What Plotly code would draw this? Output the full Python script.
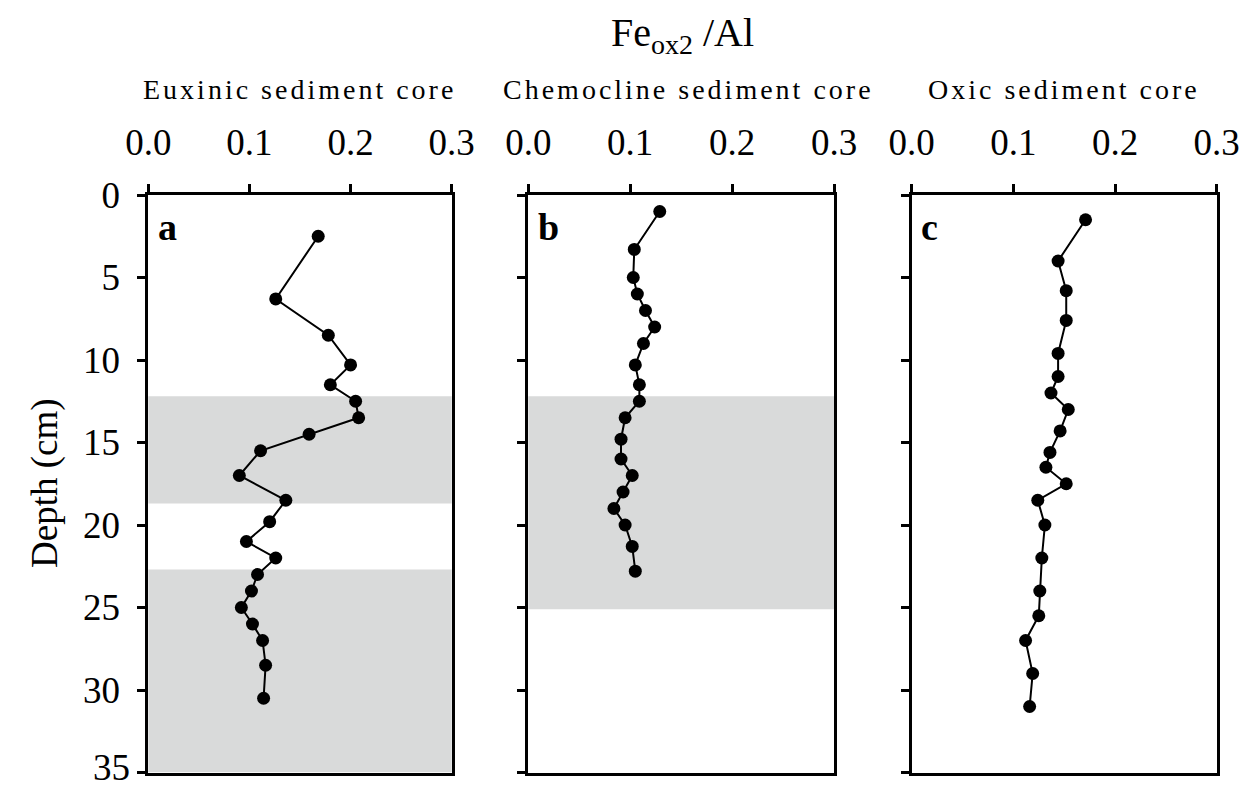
import plotly.graph_objects as go

# ---- data ----
a_depth = [2.5, 6.3, 8.5, 10.3, 11.5, 12.5, 13.5, 14.5, 15.5, 17.0, 18.5, 19.8, 21.0, 22.0, 23.0, 24.0, 25.0, 26.0, 27.0, 28.5, 30.5]
a_val = [0.168, 0.126, 0.178, 0.200, 0.180, 0.205, 0.208, 0.159, 0.111, 0.090, 0.136, 0.120, 0.097, 0.126, 0.108, 0.102, 0.092, 0.103, 0.113, 0.116, 0.114]

b_depth = [1.0, 3.3, 5.0, 6.0, 7.0, 8.0, 9.0, 10.3, 11.5, 12.5, 13.5, 14.8, 16.0, 17.0, 18.0, 19.0, 20.0, 21.3, 22.8]
b_val = [0.129, 0.104, 0.103, 0.107, 0.115, 0.124, 0.113, 0.105, 0.109, 0.109, 0.095, 0.091, 0.091, 0.102, 0.093, 0.084, 0.095, 0.102, 0.105]

c_depth = [1.5, 4.0, 5.8, 7.6, 9.6, 11.0, 12.0, 13.0, 14.3, 15.6, 16.5, 17.5, 18.5, 20.0, 22.0, 24.0, 25.5, 27.0, 29.0, 31.0]
c_val = [0.171, 0.144, 0.152, 0.152, 0.144, 0.144, 0.137, 0.154, 0.146, 0.136, 0.132, 0.152, 0.124, 0.131, 0.128, 0.126, 0.125, 0.112, 0.119, 0.116]

shade_a = [(12.2, 18.7), (22.7, 35.0)]
shade_b = [(12.2, 25.1)]
shade_c = []

panel_titles = ["Euxinic sediment core", "Chemocline sediment core", "Oxic sediment core"]
panel_letters = ["a", "b", "c"]
x_ticks = [0.0, 0.1, 0.2, 0.3]
x_ticktext = ["0.0", "0.1", "0.2", "0.3"]
y_ticks = [0, 5, 10, 15, 20, 25, 30, 35]
y_ticktext = ["0", "5", "10", "15", "20", "25", "30", "35"]
main_title = "Fe<sub>ox2</sub> /Al"
y_title = "Depth (cm)"

# ---- layout ----
W, H = 1250, 789
FONT = "Liberation Serif, Times New Roman, serif"
x_domains = [[148.3 / W, 451.7 / W], [528.3 / W, 834.0 / W], [911.7 / W, 1216.7 / W]]
y_domain = [1 - 772.5 / H, 1 - 195.0 / H]
title_centers = [299 / W, 688 / W, 1064 / W]
TICKLEN, STANDOFF, LW = 8, 10, 3

fig = go.Figure()
series = [(a_val, a_depth), (b_val, b_depth), (c_val, c_depth)]
shades = [shade_a, shade_b, shade_c]

# last y tick label sits on the page edge: draw it as an annotation kept inside the page
y_ticktext_axis = y_ticktext[:-1] + [""]

for i, (xv, yv) in enumerate(series):
    sfx = "" if i == 0 else str(i + 1)
    fig.add_trace(go.Scatter(
        x=xv, y=yv, mode="lines+markers",
        xaxis="x" + sfx, yaxis="y" + sfx,
        line=dict(color="black", width=2),
        marker=dict(color="black", size=13, line=dict(width=0)),
        showlegend=False, cliponaxis=False,
    ))
    for (y0, y1) in shades[i]:
        fig.add_shape(type="rect", xref="x" + sfx + " domain", yref="y" + sfx,
                      x0=0, x1=1, y0=y0, y1=y1, fillcolor="#D9DADA",
                      line=dict(width=0), layer="below")
    axis_common = dict(showgrid=False, zeroline=False, showline=True, automargin=False,
                       linecolor="black", linewidth=LW, mirror=True,
                       ticks="outside", ticklen=TICKLEN, tickwidth=3, tickcolor="black",
                       tickfont=dict(family=FONT, size=37, color="black"))
    fig.layout["xaxis" + sfx] = dict(
        domain=x_domains[i], range=[0, 0.3], side="top", anchor="y" + sfx,
        tickvals=x_ticks, ticktext=x_ticktext, ticklabelstandoff=14, **axis_common)
    fig.layout["yaxis" + sfx] = dict(
        domain=y_domain, range=[35, 0], anchor="x" + sfx,
        tickvals=y_ticks, ticktext=y_ticktext_axis, showticklabels=(i == 0),
        ticklabelstandoff=STANDOFF, **axis_common)
    fig.add_annotation(text='<span style="letter-spacing:3px">' + panel_titles[i] + '</span>',
                       xref="paper", yref="paper",
                       x=title_centers[i], y=1 - 90 / H, xanchor="center", yanchor="middle",
                       showarrow=False,
                       font=dict(family=FONT, size=28, color="black"))
    fig.add_annotation(text="<b>" + panel_letters[i] + "</b>", xref="x" + sfx + " domain",
                       yref="y" + sfx + " domain", x=0.025, y=0.985,
                       xanchor="left", yanchor="top", showarrow=False,
                       font=dict(family=FONT, size=38, color="black"))

fig.add_annotation(text=y_ticktext[-1], xref="x domain", yref="paper", x=0, y=0,
                   xanchor="right", yanchor="bottom", xshift=-(TICKLEN + STANDOFF + LW / 2 - 2),
                   showarrow=False, borderpad=0,
                   font=dict(family=FONT, size=37, color="black"))

fig.add_annotation(text=y_title, xref="paper", yref="paper", x=45 / W, y=1 - 483 / H,
                   xanchor="center", yanchor="middle", textangle=-90, showarrow=False,
                   font=dict(family=FONT, size=37, color="black"))

fig.add_annotation(text=main_title, xref="paper", yref="paper", x=682 / W, y=1 - 35 / H,
                   xanchor="center", yanchor="middle", showarrow=False,
                   font=dict(family=FONT, size=40, color="black"))

fig.update_layout(width=W, height=H, margin=dict(l=0, r=0, t=0, b=0, autoexpand=False),
                  paper_bgcolor="white", plot_bgcolor="white")

fig.write_html("out.html")
